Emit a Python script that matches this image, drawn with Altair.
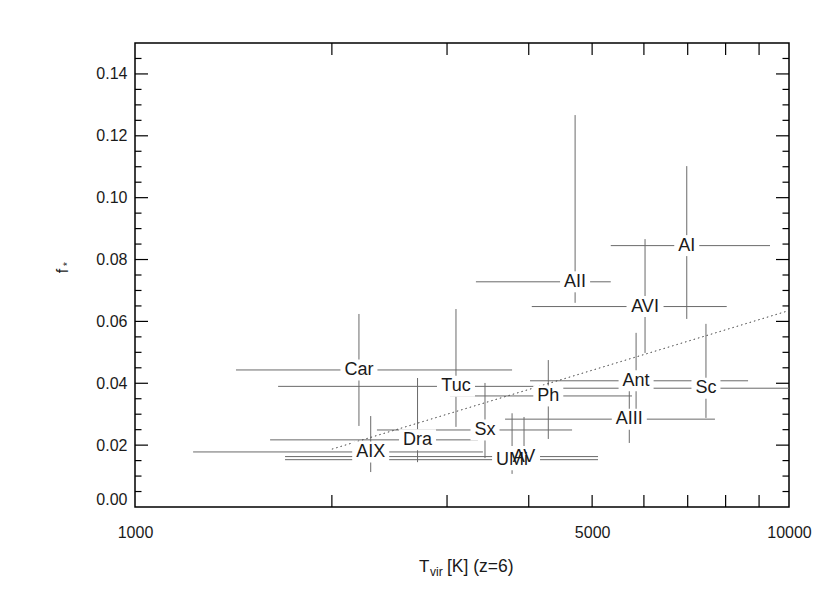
import altair as alt
import pandas as pd

# ---------------- data ----------------
names = ["Car", "Tuc", "Dra", "AIX", "Sx", "UMi", "AV", "Ph", "Ant", "AIII", "Sc", "AII", "AI", "AVI"]
tvir = [2200, 3096, 2704, 2293, 3429, 3772, 3934, 4285, 5837, 5699, 7465, 4709, 6977, 6024]
tvir_lo = [1427, 1655, 1609, 1227, 2344, 1696, 1696, 3031, 4018, 3680, 4414, 3321, 5339, 4043]
tvir_hi = [3772, 4089, 3345, 3404, 4659, 5105, 5105, 5754, 8658, 7705, 10000, 5339, 9353, 8031]
fstar = [0.0443, 0.0390, 0.0217, 0.0178, 0.0249, 0.0153, 0.0163, 0.0359, 0.0408, 0.0284, 0.0384, 0.0728, 0.0845, 0.0648]
fstar_lo = [0.0262, 0.0259, 0.0145, 0.0113, 0.0158, 0.0107, 0.0126, 0.0220, 0.0288, 0.0207, 0.0288, 0.0660, 0.0608, 0.0498]
fstar_hi = [0.0624, 0.0640, 0.0417, 0.0294, 0.0401, 0.0303, 0.0291, 0.0475, 0.0563, 0.0378, 0.0592, 0.1267, 0.1102, 0.0866]

fit_t = [2000, 10000]
fit_f = [0.0187, 0.0635]

x_label_values = [1000, 5000, 10000]
x_tick_values = [2000, 3000, 4000, 5000, 6000, 7000, 8000, 9000]
y_major_values = [0.00, 0.02, 0.04, 0.06, 0.08, 0.10, 0.12, 0.14]
y_minor_values = [0.005, 0.010, 0.015, 0.025, 0.030, 0.035, 0.045, 0.050, 0.055,
                  0.065, 0.070, 0.075, 0.085, 0.090, 0.095, 0.105, 0.110, 0.115,
                  0.125, 0.130, 0.135, 0.145]

x_title_parts = ["T", "vir", "[K] (z=6)"]
y_title_parts = ["f", "*"]

# ---------------- styling ----------------
W, H = 654, 464
FONT = "Liberation Sans"
GRAY = "#6a6a6a"
INK = "#1a1a1a"
LABEL_SIZE = 18

em = {"A": .667, "I": .278, "X": .667, "V": .667, "C": .722, "a": .556, "r": .333,
      "T": .611, "u": .556, "c": .5, "D": .722, "S": .667, "x": .5, "U": .722,
      "M": .833, "P": .667, "h": .556, "n": .556, "t": .278, "i": .222}


def box_path(label):
    w = sum(em.get(c, 0.6) for c in label) * LABEL_SIZE + 8
    hw = w / 2 / 50.0
    hh = 10.5 / 50.0
    return f"M{-hw:.4f},{-hh:.4f}L{hw:.4f},{-hh:.4f}L{hw:.4f},{hh:.4f}L{-hw:.4f},{hh:.4f}Z"


df = pd.DataFrame({"name": names, "t": tvir, "tlo": tvir_lo, "thi": tvir_hi,
                   "f": fstar, "flo": fstar_lo, "fhi": fstar_hi})
df["path"] = [box_path(n) for n in names]

fit_df = pd.DataFrame({"t": fit_t, "f": fit_f})
xt_df = pd.DataFrame({"v": x_tick_values})
ymaj_df = pd.DataFrame({"v": y_major_values[1:]})
ymin_df = pd.DataFrame({"v": y_minor_values})

xs = alt.Scale(type="log", domain=[1000, 10000], nice=False)
ys = alt.Scale(domain=[0, 0.15], nice=False, zero=False)

x_axis = alt.Axis(values=x_label_values, format="d", ticks=False, domain=False, grid=False,
                  labelFontSize=16, labelFont=FONT, labelColor=INK, labelPadding=17,
                  labelFlush=False, title=None)
y_axis = alt.Axis(values=y_major_values, format=".2f", ticks=False, domain=False, grid=False,
                  labelFontSize=16, labelFont=FONT, labelColor=INK, labelPadding=8,
                  labelFlush=True, title=None)


def X(field):
    return alt.X(field, type="quantitative", scale=xs, axis=x_axis)


def Y(field):
    return alt.Y(field, type="quantitative", scale=ys, axis=y_axis)


hbars = alt.Chart(df).mark_rule(color=GRAY, strokeWidth=1, clip=True).encode(
    x=X("tlo"), x2="thi", y=Y("f"))
vbars = alt.Chart(df).mark_rule(color=GRAY, strokeWidth=1, clip=True).encode(
    x=X("t"), y=Y("flo"), y2="fhi")

fit = alt.Chart(fit_df).mark_line(color="#444", strokeWidth=1, strokeDash=[1.5, 3]).encode(
    x=X("t"), y=Y("f"))

boxes = alt.Chart(df).mark_point(filled=True, color="white", opacity=1, size=10000, strokeWidth=0).encode(
    x=X("t"), y=Y("f"), shape=alt.Shape("path:N", scale=None, legend=None))

labels = alt.Chart(df).mark_text(font=FONT, fontSize=LABEL_SIZE, color=INK, baseline="middle",
                                 align="center", dy=0).encode(
    x=X("t"), y=Y("f"), text="name:N")

TICK = dict(color="black", strokeWidth=1.2)
ymaj_l = alt.Chart(ymaj_df).mark_rule(**TICK).encode(y=Y("v"), x=alt.value(0), x2=alt.value(13))
ymaj_r = alt.Chart(ymaj_df).mark_rule(**TICK).encode(y=Y("v"), x=alt.value(W - 13), x2=alt.value(W))
ymin_l = alt.Chart(ymin_df).mark_rule(**TICK).encode(y=Y("v"), x=alt.value(0), x2=alt.value(6.5))
ymin_r = alt.Chart(ymin_df).mark_rule(**TICK).encode(y=Y("v"), x=alt.value(W - 6.5), x2=alt.value(W))
xt_b = alt.Chart(xt_df).mark_rule(**TICK).encode(x=X("v"), y=alt.value(H - 12), y2=alt.value(H))
xt_t = alt.Chart(xt_df).mark_rule(**TICK).encode(x=X("v"), y=alt.value(0), y2=alt.value(12))

one = pd.DataFrame({"a": [0]})
xt1 = alt.Chart(one).mark_text(text=x_title_parts[0], font=FONT, fontSize=17, color=INK,
                               align="left", baseline="alphabetic").encode(
    x=alt.value(284), y=alt.value(529))
xt2 = alt.Chart(one).mark_text(text=x_title_parts[1], font=FONT, fontSize=12, color=INK,
                               align="left", baseline="alphabetic").encode(
    x=alt.value(295), y=alt.value(533))
xt3 = alt.Chart(one).mark_text(text=x_title_parts[2], font=FONT, fontSize=17.5, color=INK,
                               align="left", baseline="alphabetic").encode(
    x=alt.value(312), y=alt.value(529))
yt1 = alt.Chart(one).mark_text(text=y_title_parts[0], font=FONT, fontSize=16, color=INK,
                               align="center", baseline="middle", angle=270).encode(
    x=alt.value(-72), y=alt.value(228))
yt2 = alt.Chart(one).mark_text(text=y_title_parts[1], font=FONT, fontSize=10, color=INK,
                               align="center", baseline="middle", angle=270).encode(
    x=alt.value(-67), y=alt.value(221))

chart = alt.layer(
    hbars, vbars, fit, boxes, labels,
    ymaj_l, ymaj_r, ymin_l, ymin_r, xt_b, xt_t,
    xt1, xt2, xt3, yt1, yt2,
).properties(
    width=W, height=H, autosize="none",
    padding={"left": 127, "top": 35, "right": 30, "bottom": 78},
    background="white",
).configure_view(stroke="black", strokeWidth=1.5)

chart.save("out.html", embed_options={"renderer": "svg", "actions": False})
